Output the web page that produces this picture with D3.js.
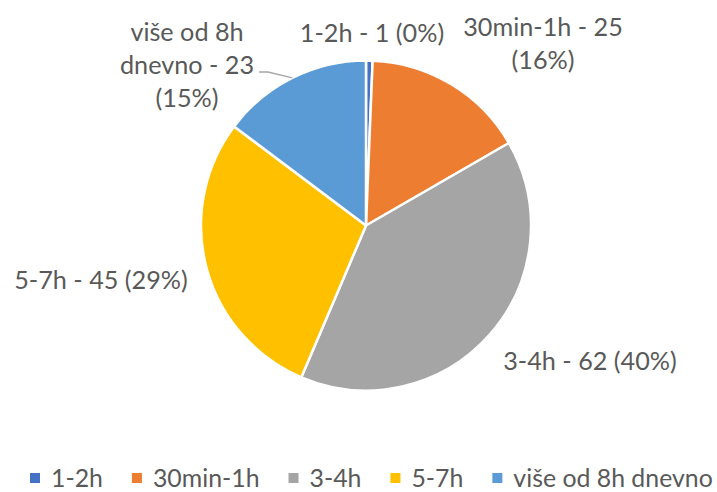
<!DOCTYPE html>
<html><head><meta charset="utf-8">
<script src="https://cdn.jsdelivr.net/npm/d3@7"></script>
<style>html,body{margin:0;padding:0;background:#fff;} svg{display:block;}</style>
</head><body>
<svg id="chart" width="717" height="492"></svg>
<script>
// ---- data ----
const categories = ["1-2h", "30min-1h", "3-4h", "5-7h", "više od 8h dnevno"];
const values = [1, 25, 62, 45, 23];
const colors = ["#4472C4", "#ED7D31", "#A5A5A5", "#FFC000", "#5B9BD5"];

// ---- layout (not data) ----
const W = 717, H = 492;
const cx = 366, cy = 225.5, R = 165;
// label block centres relative to pie centre, and wrap widths
const labelLayout = [
  {dx: 6,    dy: -194, wrap: 400},
  {dx: 177,  dy: -183, wrap: 175},
  {dx: 224,  dy: 134.5, wrap: 400},
  {dx: -265, dy: 53.5, wrap: 400},
  {dx: -179, dy: -161.5, wrap: 140, leader: true}
];
const FONT = "Lato, 'Open Sans', sans-serif";
const TEXT = "#595959";

const svg = d3.select("#chart");

// fit font size so text widths match the reference
function measure(str, size) {
  const t = svg.append("text").attr("font-family", FONT).attr("font-size", size).text(str);
  const w = t.node().getComputedTextLength();
  t.remove();
  return w;
}
const baseW = measure("5-7h - 45 (29%)", 100) + measure("više od 8h dnevno", 100);
const FS = 100 * 376 / baseW;
const LH = 33;

// percentages (largest remainder, like Excel)
const total = d3.sum(values);
const raw = values.map(v => v / total * 100);
const pct = raw.map(Math.floor);
let rest = 100 - d3.sum(pct);
raw.map((v, i) => ({i, r: v - Math.floor(v)}))
  .sort((a, b) => b.r - a.r)
  .slice(0, rest).forEach(o => pct[o.i] += 1);

// ---- pie ----
const pie = d3.pie().sort(null).value(d => d)(values);
const arc = d3.arc().innerRadius(0).outerRadius(R);
const g = svg.append("g").attr("transform", `translate(${cx},${cy})`);
g.selectAll("path.slice").data(pie).join("path")
  .attr("class", "slice")
  .attr("d", arc)
  .attr("fill", (d, i) => colors[i])
  .attr("stroke", "#fff")
  .attr("stroke-width", 2.5)
  .attr("stroke-linejoin", "round");

// ---- labels ----
function wrap(str, maxW) {
  const words = str.split(" ");
  const lines = [];
  let cur = "";
  words.forEach(w => {
    const test = cur ? cur + " " + w : w;
    if (cur && measure(test, FS) > maxW) { lines.push(cur); cur = w; }
    else cur = test;
  });
  if (cur) lines.push(cur);
  return lines;
}
const edgeArc = d3.arc().innerRadius(R).outerRadius(R);
pie.forEach((d, i) => {
  const L = labelLayout[i];
  const str = `${categories[i]} - ${values[i]} (${pct[i]}%)`;
  const lines = wrap(str, L.wrap);
  const y0 = L.dy - (lines.length - 1) * LH / 2;
  const t = g.append("text")
    .attr("font-family", FONT).attr("font-size", FS).attr("fill", TEXT)
    .attr("text-anchor", "middle");
  lines.forEach((ln, k) => {
    t.append("tspan").attr("x", L.dx).attr("y", y0 + k * LH)
      .attr("dominant-baseline", "central").text(ln);
  });
  if (L.leader) {
    const p = edgeArc.centroid(d);
    const lineW = measure(lines[1], FS);
    const xr = L.dx + lineW / 2 + 5;
    const yl = y0 + LH + 8;
    g.append("polyline")
      .attr("points", [[xr, yl], [xr + 9, yl], p].map(q => q.join(",")).join(" "))
      .attr("fill", "none").attr("stroke", "#A6A6A6").attr("stroke-width", 1.3);
  }
});

// ---- legend ----
const sq = 10, gapT = 11, gapI = 29, legY = 477, legLeft = 30, legRight = 713;
const textAvail = (legRight - legLeft) - categories.length * (sq + gapT) - (categories.length - 1) * gapI;
const wAt100 = d3.sum(categories, c => measure(c, 100));
const LFS = 100 * textAvail / wAt100;
let x = legLeft;
const leg = svg.append("g");
categories.forEach((c, i) => {
  leg.append("rect").attr("x", x).attr("y", legY - sq / 2 + 1).attr("width", sq).attr("height", sq)
    .attr("fill", colors[i]);
  leg.append("text").attr("x", x + sq + gapT).attr("y", legY)
    .attr("dominant-baseline", "central")
    .attr("font-family", FONT).attr("font-size", LFS).attr("fill", TEXT).text(c);
  x += sq + gapT + measure(c, LFS) + gapI;
});
</script>
</body></html>
